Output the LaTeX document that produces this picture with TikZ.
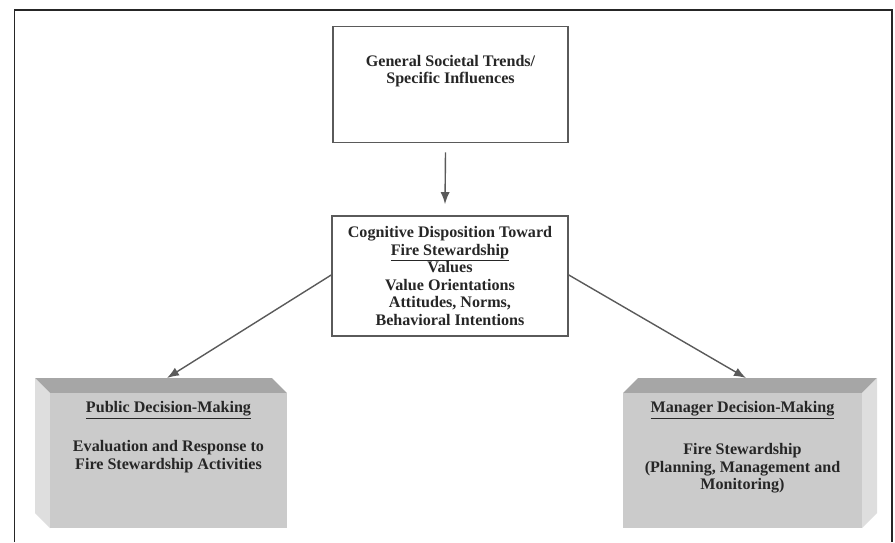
\documentclass[tikz,border=0pt]{standalone}
\usepackage{fontspec}
\setmainfont{Liberation Serif}
\usetikzlibrary{arrows.meta}
\definecolor{frontgray}{HTML}{CBCBCB}
\definecolor{topgray}{HTML}{A6A6A6}
\definecolor{sidegray}{HTML}{DEDEDE}
\definecolor{linegray}{HTML}{5A5A5A}
\definecolor{txt}{HTML}{262626}
\tikzset{
  plainbox/.style={draw=linegray, line width=1.6pt, fill=white, inner sep=0pt, minimum width=#1},
  lbl/.style={font=\bfseries\fontsize{16.1}{17.6}\selectfont, text=txt, align=center, inner sep=0pt},
  conn/.style={draw=linegray, line width=1.4pt, -{Latex[length=12pt,width=9pt]}, black},
}
\begin{document}
\begin{tikzpicture}[x=1pt,y=-1pt]
\useasboundingbox (0,0) rectangle (895,542);
% outer frame
\draw[line width=1.5pt, black!85] (14.5,542) -- (14.5,10) -- (892,10) -- (892,542);
% top box
\node[plainbox=235pt, minimum height=116pt] (top) at (450.5,84.5) {};
\node[lbl] (toptext) at (450.5,71) {General Societal Trends/\\Specific Influences};
% middle box
\node[plainbox=236pt, minimum height=120pt, lbl, draw=linegray, line width=1.6pt] (mid) at (450,276)
  {Cognitive Disposition Toward\\\underline{Fire Stewardship}\\Values\\Value Orientations\\Attitudes, Norms,\\Behavioral Intentions};
% left 3D box
\fill[topgray] (50,393) -- (35,378) -- (272,378) -- (287,393) -- cycle;
\fill[sidegray] (50,393) -- (35,378) -- (35,513) -- (50,528) -- cycle;
\node[fill=frontgray, inner sep=0pt, minimum width=237pt, minimum height=135pt] (pub) at (168.5,460.5) {};
\coordinate (pubtop) at (167,378);
\node[lbl] (pubtitle) at (168.5,410) {\underline{Public Decision-Making}};
\node[lbl] (pubbody) at (168.5,456.5) {Evaluation and Response to\\Fire Stewardship Activities};
% right 3D box
\fill[topgray] (623,393) -- (638,378) -- (877,378) -- (862,393) -- cycle;
\fill[sidegray] (862,393) -- (877,378) -- (877,513) -- (862,528) -- cycle;
\node[fill=frontgray, inner sep=0pt, minimum width=239pt, minimum height=135pt] (man) at (742.5,460.5) {};
\coordinate (mantop) at (746,378);
\node[lbl] (mantitle) at (742.5,410) {\underline{Manager Decision-Making}};
\node[lbl] (manbody) at (742.5,468.5) {Fire Stewardship\\(Planning, Management and\\Monitoring)};
% connectors
\draw[conn, draw=linegray] ([xshift=-5pt,yshift=-9pt]top.south) -- ([xshift=-5pt,yshift=11pt]mid.north);
\draw[conn, draw=linegray] ([yshift=1pt]mid.west) -- (pubtop);
\draw[conn, draw=linegray] ([yshift=1pt]mid.east) -- (mantop);
\end{tikzpicture}
\end{document}
